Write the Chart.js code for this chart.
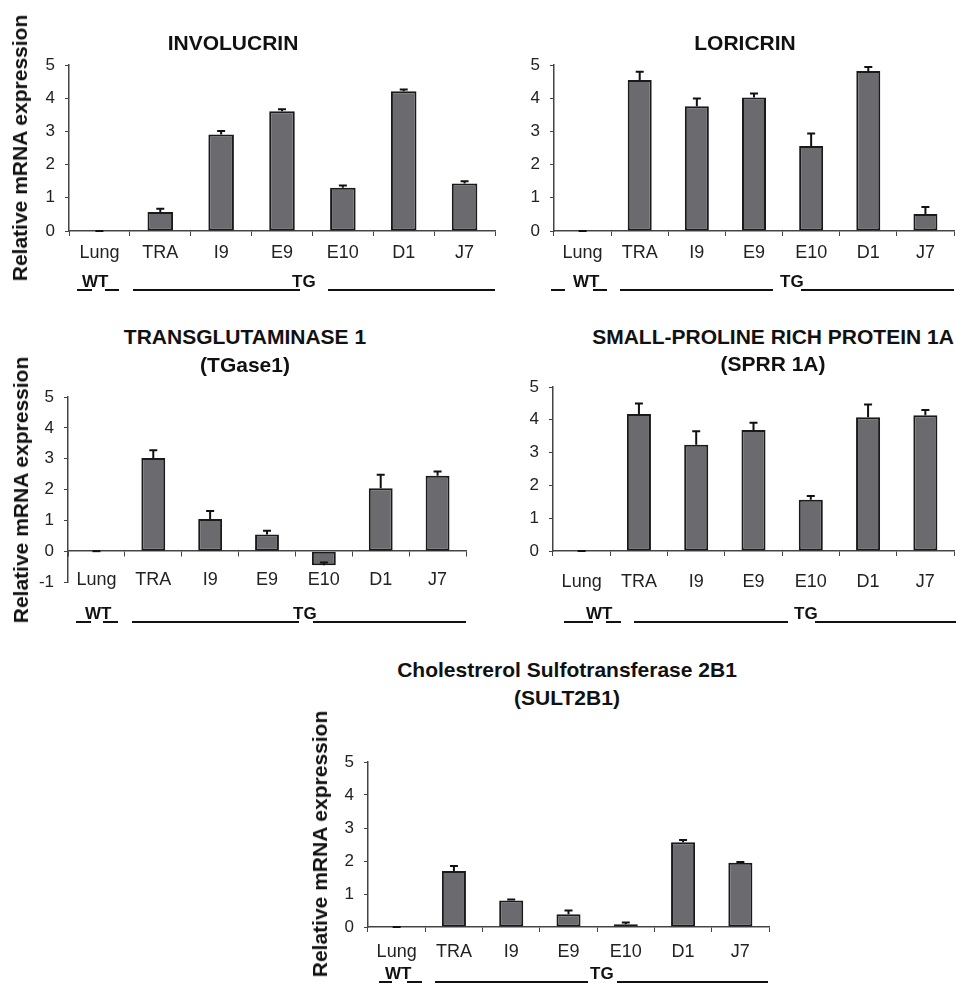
<!DOCTYPE html>
<html>
<head>
<meta charset="utf-8">
<script src="https://cdn.jsdelivr.net/npm/chart.js@4.4.1/dist/chart.umd.min.js"></script>
<style>
  body { margin: 0; width: 956px; height: 983px; position: relative; overflow: hidden; background: #fff;
         font-family: "Liberation Sans", Arial, sans-serif; color: #111; }
  canvas { position: absolute; }
  .title { position: absolute; font-weight: bold; font-size: 21px; white-space: nowrap; transform: translate(-50%, -50%); }
  .ylab { position: absolute; font-weight: bold; font-size: 21px; white-space: nowrap; transform: translate(-50%, -50%) rotate(-90deg); }
  .grp { position: absolute; font-weight: bold; font-size: 17px; white-space: nowrap; transform: translateY(-50%); }
  .seg { position: absolute; height: 1.6px; background: #111; }
</style>
</head>
<body>
<script>
// categories shared by every panel
const categories = ['Lung', 'TRA', 'I9', 'E9', 'E10', 'D1', 'J7'];

// relative mRNA expression (mean) and error (+ direction)
const involucrin    = [0, 0.57, 2.91, 3.61, 1.30, 4.21, 1.43];
const involucrinErr = [0, 0.10, 0.10, 0.06, 0.07, 0.05, 0.07];

const loricrin    = [0, 4.55, 3.76, 4.02, 2.56, 4.82, 0.51];
const loricrinErr = [0, 0.25, 0.23, 0.12, 0.38, 0.12, 0.21];

const tgase1    = [0, 3.02, 1.04, 0.54, -0.46, 2.04, 2.45];
const tgase1Err = [0, 0.25, 0.26, 0.12, 0.09, 0.44, 0.13];

const sprr1a    = [0, 4.18, 3.24, 3.69, 1.56, 4.08, 4.14];
const sprr1aErr = [0, 0.32, 0.41, 0.22, 0.12, 0.39, 0.16];

const sult2b1    = [0, 1.70, 0.80, 0.39, 0.08, 2.57, 1.95];
const sult2b1Err = [0, 0.15, 0.03, 0.11, 0.06, 0.07, 0.02];

const yLabel = 'Relative mRNA expression';

const panels = [
  { title: ['INVOLUCRIN'], tx: 233, ty: [43], data: involucrin, err: involucrinErr,
    area: { l: 69, r: 495, t: 65, b: 231 }, min: 0, max: 5, gap: 6, ylab: [20, 148],
    rowY: 290, row: [['l', 77, 92], ['t', 'WT', 82], ['l', 105, 119], ['l', 133, 300], ['t', 'TG', 292], ['l', 328, 495]] },
  { title: ['LORICRIN'], tx: 745, ty: [43], data: loricrin, err: loricrinErr,
    area: { l: 554, r: 954, t: 65, b: 231 }, min: 0, max: 5, gap: 6, ylab: null,
    rowY: 290, row: [['l', 551, 565], ['t', 'WT', 573], ['l', 593, 607], ['l', 620, 773], ['t', 'TG', 780], ['l', 801, 954]] },
  { title: ['TRANSGLUTAMINASE 1', '(TGase1)'], tx: 245, ty: [337, 365], data: tgase1, err: tgase1Err,
    area: { l: 68, r: 466, t: 397, b: 582 }, min: -1, max: 5, gap: 13, ylab: [21, 490],
    rowY: 622, row: [['l', 76, 91], ['t', 'WT', 85], ['l', 103, 118], ['l', 132, 299], ['t', 'TG', 293], ['l', 313, 466]] },
  { title: ['SMALL-PROLINE RICH PROTEIN 1A', '(SPRR 1A)'], tx: 773, ty: [337, 364], data: sprr1a, err: sprr1aErr,
    area: { l: 553, r: 954, t: 387, b: 551 }, min: 0, max: 5, gap: 15, ylab: null,
    rowY: 622, row: [['l', 564, 593], ['t', 'WT', 586], ['l', 606, 621], ['l', 634, 788], ['t', 'TG', 794], ['l', 815, 956]] },
  { title: ['Cholestrerol Sulfotransferase 2B1', '(SULT2B1)'], tx: 567, ty: [670, 698], data: sult2b1, err: sult2b1Err,
    area: { l: 368, r: 769, t: 762, b: 927 }, min: 0, max: 5, gap: 9, ylab: [320, 844],
    rowY: 982, row: [['l', 379, 392], ['t', 'WT', 385], ['l', 407, 422], ['l', 435, 588], ['t', 'TG', 590], ['l', 617, 768]] }
];

const errorBars = {
  id: 'errorBars',
  afterDatasetsDraw(chart, args, opts) {
    const { ctx } = chart;
    const y = chart.scales.y;
    const meta = chart.getDatasetMeta(0);
    ctx.save();
    ctx.strokeStyle = '#111';
    ctx.lineWidth = 2;
    meta.data.forEach((bar, i) => {
      const v = opts.values[i], e = opts.errs[i];
      const y0 = y.getPixelForValue(v), y1 = y.getPixelForValue(v + e);
      ctx.beginPath();
      ctx.moveTo(bar.x, y0);
      ctx.lineTo(bar.x, y1);
      ctx.moveTo(bar.x - 4, y1);
      ctx.lineTo(bar.x + 4, y1);
      ctx.stroke();
    });
    ctx.restore();
  }
};

function addDiv(cls, text, left, top, extra) {
  const d = document.createElement('div');
  d.className = cls;
  if (text) d.textContent = text;
  d.style.left = left + 'px';
  d.style.top = top + 'px';
  if (extra) Object.assign(d.style, extra);
  document.body.appendChild(d);
  return d;
}

panels.forEach(p => {
  const yw = 45, padTop = 26, negAxis = p.min < 0;
  const xh = negAxis ? 0 : 45;
  const padBottom = negAxis ? 26 : 0;
  const left = p.area.l - yw, top = p.area.t - padTop;
  const width = Math.min(p.area.r + 2, 956) - left;
  const height = p.area.b - top + xh + padBottom;

  const canvas = document.createElement('canvas');
  canvas.width = width; canvas.height = height;
  canvas.style.left = left + 'px'; canvas.style.top = top + 'px';
  document.body.appendChild(canvas);

  new Chart(canvas.getContext('2d'), {
    type: 'bar',
    data: {
      labels: categories,
      datasets: [{
        data: p.data,
        backgroundColor: '#6a6a6f',
        borderColor: '#1a1a1a',
        borderWidth: 2,
        borderSkipped: false,
        categoryPercentage: 1,
        barPercentage: 0.42
      }]
    },
    options: {
      responsive: false,
      animation: false,
      devicePixelRatio: 1,
      layout: { padding: { left: 0, top: padTop, right: width - (p.area.r - left), bottom: padBottom } },
      plugins: {
        legend: { display: false },
        tooltip: { enabled: false },
        errorBars: { values: p.data, errs: p.err }
      },
      scales: {
        x: {
          position: negAxis ? { y: 0 } : 'bottom',
          grid: { drawOnChartArea: false, tickLength: 5, color: '#444', offset: true },
          border: { color: '#444', width: 1.5 },
          ticks: { color: '#222', font: { family: 'Liberation Sans', size: 18 }, padding: p.gap, maxRotation: 0 },
          afterFit: s => { if (!negAxis) s.height = xh; }
        },
        y: {
          min: p.min, max: p.max,
          grid: { drawOnChartArea: false, tickLength: 4, color: '#444' },
          border: { color: '#444', width: 1.5 },
          ticks: { stepSize: 1, color: '#222', font: { family: 'Liberation Sans', size: 17 }, padding: 10 },
          afterFit: s => { s.width = yw; }
        }
      }
    },
    plugins: [errorBars]
  });

  p.title.forEach((line, i) => addDiv('title', line, p.tx, p.ty[i]));
  if (p.ylab) addDiv('ylab', yLabel, p.ylab[0], p.ylab[1]);
  p.row.forEach(r => {
    if (r[0] === 'l') addDiv('seg', '', r[1], p.rowY - 1, { width: (r[2] - r[1]) + 'px' });
    else addDiv('grp', r[1], r[2], p.rowY - 8);
  });
});
</script>
</body>
</html>
